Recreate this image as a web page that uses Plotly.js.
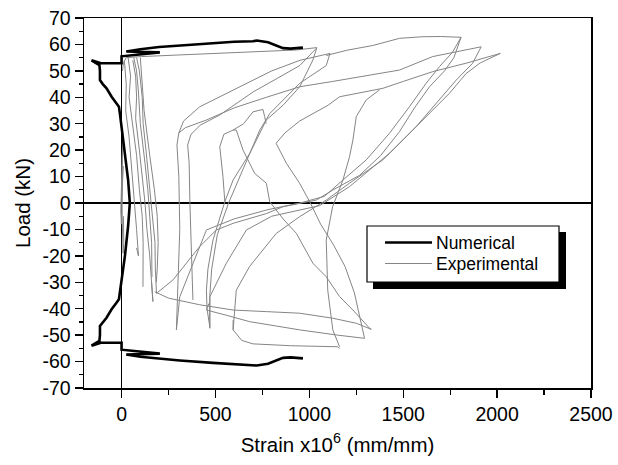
<!DOCTYPE html>
<html>
<head>
<meta charset="utf-8">
<script src="https://cdn.plot.ly/plotly-3.0.1.min.js"></script>
<style>html,body{margin:0;padding:0;background:#fff;}#chart{width:618px;height:465px;}</style>
</head>
<body>
<div id="chart"></div>
<script>
// Numerical (thick black) curve
var numX = [966,930,900,860,830,780,720,700,600,487,310,200,100,25,204,0,0,-110,-160,-118,-115,-115,-100,-80,-53,-27,-14,-9,0,18,35,44,
            35,18,0,-9,-14,-27,-53,-80,-100,-115,-115,-118,-160,-110,0,0,204,25,100,200,310,487,600,700,720,780,830,860,900,930,966];
var numY = [58.8,58.5,58.4,58.6,59.5,60.8,61.5,61.2,61,60.5,59.6,59,58.2,57.3,57,55.5,52.9,52.9,54,52.2,50,46.5,45,43.4,40.2,37.7,36.4,33.9,28.9,20,8.7,0,
            -8.7,-20,-28.9,-33.9,-36.4,-37.7,-40.2,-43.4,-45,-46.5,-50,-52.2,-54,-52.9,-52.9,-55.5,-57,-57.3,-58.2,-59,-59.6,-60.5,-61,-61.3,-61.5,-60.8,-59.5,-58.6,-58.4,-58.5,-58.8];

// Experimental (thin grey) curves, segments separated by null
var expX = [
  0,2,4,6,3,-2,-4,-1,2,5,8,4,0, null,
  0,2,5,8,12,10, null,
  15,25,22,40,55,70,80,90,80, null,
  35,48,40,60,80,95,110,115,115,114, null,
  60,75,80,75,95,110,125,135,150,167,160, null,
  80,95,110,115,130,150,165,178,180,186, null,
  65,80,90,100,125,140,150,160,162, null,
  100,105,120,150,175,190,195,190,185, null,
  5,10,25,106,300,487,700,931,1040,1019,949,860,771,683,594,550,487,460,452,455,470, null,
  1110,1090,949,790,736,683,620,570,510,480,470,470, null,
  292,300,310,305,295,305,340,452,600,771,950,1125,1300,1480,1657,1915, null,
  380,372,364,360,352,370,420,523,700,850,949,1037, null,
  305,330,416,600,800,950,1110, null,
  1090,1200,1338,1480,1600,1700,1808, null,
  292,310,381,452,600,780,950,1080,1179,1303,1427,1533,1622,1693,1762,1808, null,
  470,470,558,665,800,950,1055,1214,1427,1569,1693,1782,1870,1915, null,
  594,611,682,824,948,1090,1214,1391,1516,1657,1746,1835,1910,2017, null,
  186,274,416,505,594,771,860,1037,1125,1268,1380,1480,1560,1640,1720,1770,1808, null,
  550,540,523,545,594,650,700,753,762,770, null,
  594,611,647,709,771,789,860,931,1019,1090,1161,1232,1321,1330, null,
  1294,1270,1240,1190,1130,1060,1002,948,878,823,870,948,1100,1161,1250,1392,1500,1657,1835,2017, null,
  1374,1340,1303,1250,1232,1214,1179,1124,1090,1098,1125,1161, null,
  177,250,416,594,771,948,1125,1250,1330, null,
  465,452,560,682,820,948,1150,1294, null,
  594,594,640,700,900,1152,1161
];
var expY = [
  0,8,18,23,15,5,-3,-8,0,12,14,8,0, null,
  5,-5,-12,-19,-15,-5, null,
  54,45,35,25,12,0,-10,-20,-17, null,
  55,48,40,30,18,5,-5,-15,-25,-31.7, null,
  54,48,40,32,20,10,0,-10,-20,-37.3,-30, null,
  55,50,40,30,20,5,-5,-15,-25,-34.2, null,
  55,50,42,30,15,5,-5,-15,-28, null,
  55,50,35,18,5,-5,-15,-25,-30, null,
  50,53,55,55.4,56,56.6,57.2,57.9,58.8,54.1,44,37,31.4,18.8,8.7,0.5,-14,-25,-33,-40,-46.8, null,
  56.6,52,45.3,33.9,27.6,18.8,8,0,-12,-25,-35,-47.4, null,
  -48,-30,-10,10,22,26.5,28.5,31.4,36,40,44,46,48,50.3,55.4,59.1, null,
  -36.7,-20,0,15,22,26,29.5,33.3,42,48,52,58.5, null,
  26.5,31,36.4,43,50,54,56.6, null,
  55.8,57.8,59.6,62.3,62.9,63,62.7, null,
  -48,-35.5,-22.8,-10.2,-6,-2.5,0,2.5,8.7,16.3,26.4,36.4,45.3,51.6,57,62.7, null,
  -47.4,-35.5,-22.8,-10.2,-5,-2.5,-1,6.2,18.8,28.9,39,46.5,52.9,59.1, null,
  -48,-33,-24,-11.5,-5.2,1.1,7.5,16.3,25.1,35.2,41.5,49,53,56.6, null,
  -34.2,-29.1,-16.5,-10.2,-7.7,-4,-1.4,1.1,4.9,10.5,18,27,36,44,50,55,62.7, null,
  0.5,10,21.3,26,27.6,30,34.5,35.4,32.7,30, null,
  27.6,27.6,20,11.2,7.5,0.5,-6,-11.5,-22.8,-27.9,-35.4,-40.5,-47.4,-47.8, null,
  -51.2,-43,-34,-24,-16,-8,0.5,7.5,15,22.6,26.5,31,37,40.2,41.5,43.4,46,49.7,52.9,56.6, null,
  42.8,41,39,32.7,23.8,17.5,8.7,-1.4,-14,-33,-48,-54.4, null,
  -33.6,-36,-38.5,-40.5,-41.1,-41.7,-43.6,-45.5,-47.8, null,
  -38,-40.5,-42.5,-44.9,-46.5,-48,-50,-51.2, null,
  -44.3,-48,-52,-53.3,-54,-54.4,-55
];

var xTickVals = [0,500,1000,1500,2000,2500];
var xTickText = ['0','500','1000','1500','2000','2500'];
var yTickVals = [-70,-60,-50,-40,-30,-20,-10,0,10,20,30,40,50,60,70];
var yTickText = ['-70','-60','-50','-40','-30','-20','-10','0','10','20','30','40','50','60','70'];
var xMinorVals = [-250,250,750,1250,1750,2250];
var xTopVals = [250,500,750,1000,1250,1500,1750,2000,2250];
var yMinorVals = [-65,-55,-45,-35,-25,-15,-5,5,15,25,35,45,55,65];

var seriesNames = ['Numerical', 'Experimental'];
var seriesColors = ['#000000', '#858585'];
var seriesWidths = [2.6, 1];

var FONT = 'Liberation Sans, Arial, sans-serif';

var traces = [
  {x: expX, y: expY, mode: 'lines', name: seriesNames[1], connectgaps: false,
   line: {color: seriesColors[1], width: seriesWidths[1]}, showlegend: false},
  {x: numX, y: numY, mode: 'lines', name: seriesNames[0],
   line: {color: seriesColors[0], width: seriesWidths[0]}, showlegend: false}
];

// legend box (paper coordinates from plot-area pixels)
var L = 84, W = 507, B = 388, H = 370;
function px(v) { return (v - L) / W; }
function py(v) { return (B - v) / H; }

var shapes = [
  {type: 'rect', xref: 'paper', yref: 'paper', layer: 'above',
   x0: px(373), x1: px(566), y0: py(289), y1: py(232), fillcolor: '#000', line: {width: 0}},
  {type: 'rect', xref: 'paper', yref: 'paper', layer: 'above',
   x0: px(367), x1: px(559), y0: py(282), y1: py(226), fillcolor: '#fff', line: {color: '#000', width: 1.2}},
  {type: 'line', xref: 'paper', yref: 'paper', layer: 'above',
   x0: px(385), x1: px(432), y0: py(242.5), y1: py(242.5), line: {color: seriesColors[0], width: 2.6}},
  {type: 'line', xref: 'paper', yref: 'paper', layer: 'above',
   x0: px(385), x1: px(432), y0: py(263.5), y1: py(263.5), line: {color: seriesColors[1], width: 1}}
];
var annotations = [
  {xref: 'paper', yref: 'paper', x: px(434), y: py(242.5), xanchor: 'left', yanchor: 'middle',
   text: seriesNames[0], showarrow: false, font: {family: FONT, size: 17.5, color: '#000'}},
  {xref: 'paper', yref: 'paper', x: px(434), y: py(263.5), xanchor: 'left', yanchor: 'middle',
   text: seriesNames[1], showarrow: false, font: {family: FONT, size: 17.5, color: '#000'}}
];

var layout = {
  width: 618, height: 465,
  margin: {l: 84, r: 27, t: 18, b: 77},
  paper_bgcolor: '#ffffff', plot_bgcolor: '#ffffff',
  font: {family: FONT, color: '#000', size: 18},
  showlegend: false,
  xaxis: {range: [-200, 2500], tickmode: 'array', tickvals: xTickVals, ticktext: xTickText,
          ticks: 'outside', ticklen: 8, tickwidth: 1.3, tickcolor: '#000',
          minor: {tickmode: 'array', tickvals: xMinorVals, ticks: 'outside', ticklen: 5, tickwidth: 1.3, tickcolor: '#000'},
          showline: true, linecolor: '#000', linewidth: 1.5, mirror: true,
          showgrid: false, zeroline: true, zerolinecolor: '#000', zerolinewidth: 1.2,
          tickfont: {family: FONT, size: 19.5},
          title: {text: 'Strain x10<sup>6</sup> (mm/mm)', font: {family: FONT, size: 20.5}, standoff: 13},
          automargin: false},
  yaxis: {range: [-70, 70], tickmode: 'array', tickvals: yTickVals, ticktext: yTickText,
          ticks: 'outside', ticklen: 8, tickwidth: 1.3, tickcolor: '#000',
          minor: {tickmode: 'array', tickvals: yMinorVals, ticks: 'outside', ticklen: 4, tickwidth: 1.3, tickcolor: '#000'},
          showline: true, linecolor: '#000', linewidth: 1.5, mirror: true,
          showgrid: false, zeroline: true, zerolinecolor: '#000', zerolinewidth: 1.2,
          tickfont: {family: FONT, size: 19.5},
          title: {text: 'Load (kN)', font: {family: FONT, size: 20.5}, standoff: 6},
          automargin: false},
  xaxis2: {overlaying: 'x', anchor: 'y', side: 'top', range: [-200, 2500],
           tickmode: 'array', tickvals: xTopVals, ticks: 'inside', ticklen: 7, tickwidth: 1.3, tickcolor: '#000',
           showticklabels: false, showline: false, showgrid: false, zeroline: false},
  yaxis2: {overlaying: 'y', anchor: 'x', side: 'right', range: [-70, 70],
           tickmode: 'array', tickvals: yTickVals, ticks: 'inside', ticklen: 8, tickwidth: 1.3, tickcolor: '#000',
           minor: {tickmode: 'array', tickvals: yMinorVals, ticks: 'inside', ticklen: 4, tickwidth: 1.3, tickcolor: '#000'},
           showticklabels: false, showline: false, showgrid: false, zeroline: false},
  shapes: shapes,
  annotations: annotations
};

Plotly.newPlot('chart', traces, layout, {staticPlot: true, displayModeBar: false});
</script>
</body>
</html>
